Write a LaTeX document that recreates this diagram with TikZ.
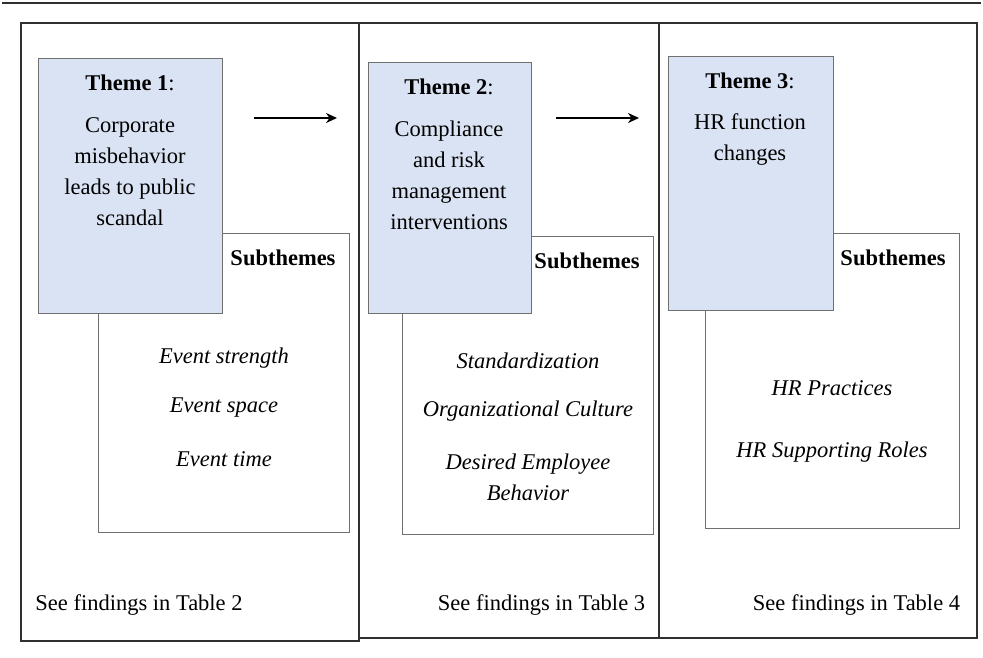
\documentclass[tikz,border=0pt]{standalone}
\usepackage{fontspec}
\setmainfont{Liberation Serif}
\usetikzlibrary{arrows.meta}
\definecolor{themefill}{HTML}{DAE3F3}
\definecolor{boxline}{HTML}{707070}
\definecolor{panelline}{HTML}{303030}
\begin{document}
\begin{tikzpicture}[x=1pt,y=-1pt,
  panel/.style={draw=panelline,line width=1.4pt},
  subbox/.style={draw=boxline,line width=1.2pt,fill=white},
  themebox/.style={draw=boxline,line width=1.2pt,fill=themefill},
  txt/.style={font=\fontsize{22.5}{31}\selectfont,inner sep=0pt,align=center},
  itx/.style={txt,font=\fontsize{22.5}{31}\selectfont\itshape},
  flow/.style={line width=2.4pt,-{Stealth[length=11pt,width=10pt]}}]
\useasboundingbox (0,0) rectangle (983,657);
% top rule
\draw[line width=1.2pt,panelline] (2,3) -- (981,3);
% panels
\draw[panel] (21,23) rectangle (359,641);
\draw[panel] (359,23) rectangle (659,638);
\draw[panel] (659,23) rectangle (977,638);
% subtheme boxes
\node[subbox,anchor=north west,minimum width=251pt,minimum height=299pt,inner sep=0pt] (s1) at (98,233) {};
\node[subbox,anchor=north west,minimum width=251pt,minimum height=298pt,inner sep=0pt] (s2) at (402,236) {};
\node[subbox,anchor=north west,minimum width=254pt,minimum height=295pt,inner sep=0pt] (s3) at (705,233) {};
% theme boxes
\node[themebox,anchor=north west,minimum width=184pt,minimum height=255pt,inner sep=0pt] (t1) at (38,58) {};
\node[themebox,anchor=north west,minimum width=163pt,minimum height=251pt,inner sep=0pt] (t2) at (368,62) {};
\node[themebox,anchor=north west,minimum width=165pt,minimum height=254pt,inner sep=0pt] (t3) at (668,56) {};
% theme texts
\node[txt] (t1h) at (130,83) {\textbf{Theme 1}:};
\node[txt] (t1b) at (130,172) {Corporate\\misbehavior\\leads to public\\scandal};
\node[txt] (t2h) at (449,87) {\textbf{Theme 2}:};
\node[txt] (t2b) at (449,175) {Compliance\\and risk\\management\\interventions};
\node[txt] (t3h) at (750,81) {\textbf{Theme 3}:};
\node[txt] (t3b) at (750,139.5) {HR function\\changes};
% subthemes headers
\node[txt,font=\fontsize{22.5}{31}\selectfont\bfseries] (s1h) at (283,258) {Subthemes};
\node[txt,font=\fontsize{22.5}{31}\selectfont\bfseries] (s2h) at (587,261) {Subthemes};
\node[txt,font=\fontsize{22.5}{31}\selectfont\bfseries] (s3h) at (893,258) {Subthemes};
% subtheme items
\node[itx] (e1) at (224,358) {Event strength};
\node[itx] (e2) at (224,408) {Event space};
\node[itx] (e3) at (224,459) {Event time};
\node[itx] (c1) at (528,361) {Standardization};
\node[itx] (c2) at (528,411) {Organizational Culture};
\node[itx] (c3) at (528,477) {Desired Employee\\Behavior};
\node[itx] (h1) at (832,388) {HR Practices};
\node[itx] (h2) at (832,452) {HR Supporting Roles};
% findings
\node[txt] (f1) at (139,605) {See findings in Table 2};
\node[txt] (f2) at (541.5,605) {See findings in Table 3};
\node[txt] (f3) at (856.5,605) {See findings in Table 4};
% arrows
\coordinate (a1s) at (254,118);
\coordinate (a1e) at (337,118);
\coordinate (a2s) at (556,118);
\coordinate (a2e) at (639,118);
\draw[flow] (a1s) -- (a1e);
\draw[flow] (a2s) -- (a2e);
\end{tikzpicture}
\end{document}
